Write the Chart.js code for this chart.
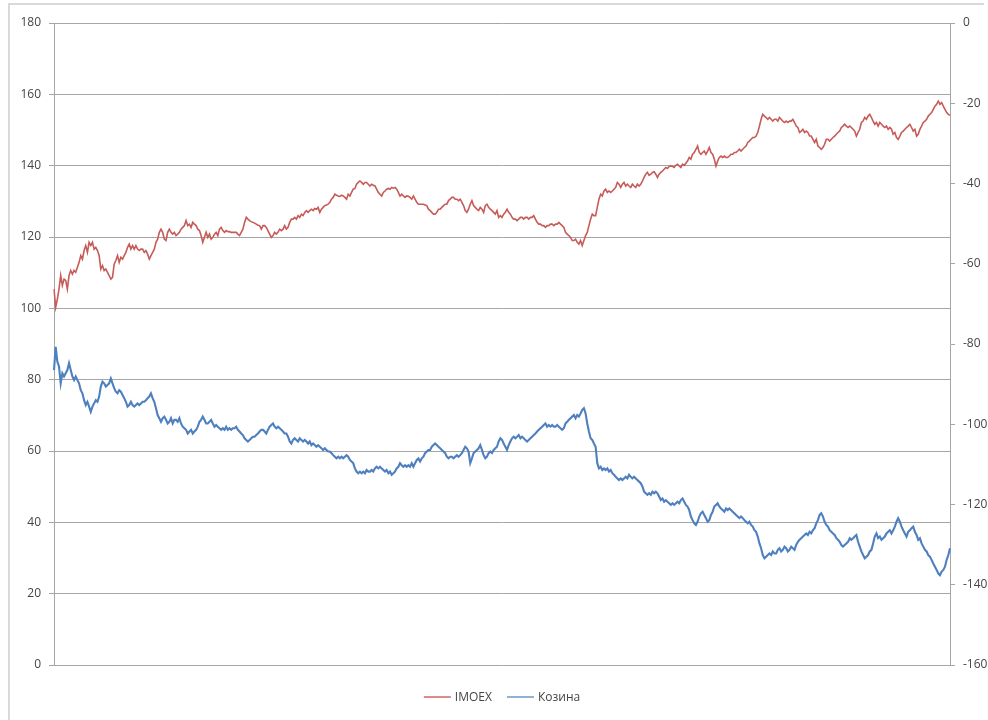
<!DOCTYPE html>
<html>
<head>
<meta charset="utf-8">
<script src="https://cdn.jsdelivr.net/npm/chart.js@4/dist/chart.umd.min.js"></script>
<style>
  html, body { margin: 0; padding: 0; background: #ffffff; }
  #frame { position: absolute; left: 8px; top: 3px; width: 974px; height: 800px;
           border-left: 2px solid #d9d9d9; border-top: 2px solid #d9d9d9; }
  #wrap { position: absolute; left: 0; top: 0; width: 988px; height: 720px; }
</style>
</head>
<body>
<div id="frame"></div>
<div id="wrap"><canvas id="chart" width="988" height="720"></canvas></div>
<script>
// IMOEX, left axis
const imoex = [
  105.4,100.3,102.6,105.4,109.2,106.4,108.2,107.8,105.4,109.2,
  110.6,109.6,110.6,110.1,111.5,112.9,114.8,113.8,116.2,117.6,
  115.7,118.5,117.6,118.5,116.6,117.1,116.2,114.8,111.0,112.0,
  110.6,111.0,110.1,109.2,108.2,108.7,112.4,113.4,114.8,112.9,
  114.3,113.8,114.8,115.7,117.1,118.0,116.6,117.6,116.6,117.6,
  116.6,116.2,116.6,116.6,115.7,116.2,115.2,113.8,114.8,115.7,
  116.6,118.5,119.4,121.3,122.2,121.3,119.4,119.0,121.3,122.2,
  121.3,120.8,121.3,120.4,120.8,121.3,122.2,122.7,123.2,124.6,
  123.2,123.6,122.7,124.1,123.6,123.2,122.2,121.8,120.4,118.5,
  119.9,121.3,119.9,120.8,119.4,119.9,120.8,121.3,120.4,122.2,
  122.7,121.8,121.3,121.8,121.5,121.5,121.3,121.3,
  121.3,121.3,120.8,120.4,121.3,122.2,124.1,125.5,125.0,124.6,
  124.3,124.1,123.9,123.6,123.3,123.2,122.2,123.2,123.2,122.7,
  121.8,120.8,119.9,120.4,121.3,120.8,121.3,122.2,121.8,122.2,
  123.2,122.2,122.7,124.1,125.0,125.0,125.5,125.0,126.0,125.5,
  126.4,126.0,126.9,127.4,126.9,127.4,127.8,127.4,128.0,127.8,
  128.3,126.9,127.8,128.3,128.8,129.0,129.2,129.7,130.6,131.1,
  132.0,131.7,131.5,131.4,131.7,131.5,131.1,130.6,132.0,131.5,
  132.5,133.4,133.6,134.8,135.3,135.7,135.3,134.8,135.3,135.3,
  134.8,134.3,134.8,134.5,134.3,133.4,132.5,132.0,131.5,132.5,
  132.9,133.4,133.6,133.4,133.9,133.7,133.9,133.4,132.5,131.5,
  132.0,131.5,131.1,131.5,131.4,131.1,130.6,131.5,
  130.6,129.7,129.2,129.2,129.2,129.2,129.0,128.8,127.8,127.4,
  126.9,126.4,126.4,126.9,127.8,127.8,128.3,128.8,129.2,129.2,
  130.2,130.6,131.1,131.1,130.6,130.6,130.2,130.6,129.7,128.8,
  127.4,126.9,127.8,129.2,130.2,128.8,128.3,127.8,127.4,128.3,
  127.8,126.9,128.8,129.2,128.3,127.8,127.4,126.9,126.4,127.4,
  125.5,126.0,125.5,126.4,126.9,127.8,126.9,126.4,125.5,125.0,
  125.0,124.6,125.0,125.5,125.5,125.0,125.5,125.5,125.0,125.5,
  125.5,126.0,125.0,124.1,123.6,123.6,123.2,123.2,122.7,123.2,
  123.2,123.6,123.6,123.2,123.6,123.6,124.1,123.6,123.2,122.7,
  121.3,120.8,120.4,119.9,119.0,119.0,119.4,118.5,118.0,119.0,
  117.6,119.0,120.4,121.3,123.2,125.0,126.4,126.0,
  126.0,128.3,130.6,132.0,131.5,132.9,133.4,132.5,132.9,132.5,
  132.9,133.4,133.9,135.3,134.8,133.9,134.8,135.3,134.3,134.8,
  134.3,133.9,134.8,134.3,133.9,134.8,134.3,134.8,135.7,136.7,
  137.6,138.1,137.3,137.6,138.1,138.3,137.6,136.7,137.6,138.1,
  138.5,139.0,139.5,139.2,139.8,139.9,139.8,139.5,140.1,140.4,
  139.9,139.5,140.4,140.1,140.7,141.3,142.3,141.8,143.2,143.7,
  144.6,145.5,143.7,143.2,143.7,144.1,143.2,144.1,145.1,143.7,
  143.2,141.8,139.9,141.3,142.3,142.7,142.3,142.7,142.3,142.3,
  142.7,143.2,143.2,143.7,143.7,144.1,144.6,144.1,144.6,145.1,
  145.5,146.5,146.9,147.4,147.9,147.9,148.3,149.3,151.1,153.0,
  154.4,153.9,153.5,153.0,153.5,153.0,152.5,153.0,
  153.0,152.5,153.5,153.0,152.5,152.1,152.5,152.1,152.5,152.5,
  153.0,152.1,151.1,150.7,149.3,149.7,150.2,149.3,149.7,149.3,
  148.3,148.3,147.4,146.5,147.4,145.5,145.1,144.6,145.1,146.0,
  147.4,147.4,146.9,147.4,147.9,148.3,148.8,149.3,149.7,150.7,
  151.1,151.6,151.1,150.7,151.1,150.7,150.2,149.7,148.3,149.3,
  150.2,152.1,152.5,153.5,153.0,153.9,154.4,153.5,152.5,151.6,
  152.1,151.1,152.1,151.6,151.1,150.7,151.1,150.2,150.7,150.2,
  148.8,149.3,147.9,147.4,148.3,149.3,149.7,150.2,150.7,151.1,
  151.6,150.7,149.7,150.2,148.3,148.8,150.2,151.1,152.1,152.5,
  153.0,153.9,154.4,154.9,155.8,156.7,157.2,158.1,157.2,157.7,
  156.7,155.8,154.9,154.4,154.1
];

// Козина, right axis
const kozina = [
  -86.5,-80.7,-84.4,-85.6,-89.8,-87.3,-88.1,-87.3,-86.5,-84.8,
  -86.5,-88.1,-89.0,-88.1,-89.0,-89.8,-91.5,-92.3,-94.0,-95.2,
  -94.4,-95.6,-96.9,-95.6,-94.8,-94.0,-94.4,-93.1,-90.6,-89.4,
  -89.8,-90.6,-90.2,-89.8,-88.6,-89.8,-91.0,-91.9,-92.3,-91.5,
  -91.9,-92.7,-93.5,-94.4,-95.6,-95.2,-94.4,-95.2,-95.6,-95.2,
  -94.8,-95.2,-94.8,-94.4,-94.4,-94.0,-93.5,-93.1,-92.3,-93.5,
  -94.4,-96.0,-97.7,-98.5,-99.4,-98.5,-98.1,-98.9,-99.8,-99.4,
  -98.5,-99.8,-98.9,-98.9,-99.4,-98.5,-99.8,-100.6,-101.0,-101.4,
  -102.3,-101.8,-101.4,-102.3,-101.8,-101.4,-100.6,-99.4,-98.9,-98.1,
  -98.9,-99.8,-99.8,-99.4,-98.9,-99.8,-100.6,-100.2,-100.6,-101.0,
  -101.4,-101.0,-101.4,-100.6,-101.4,-101.0,-101.4,-101.0,
  -101.0,-100.6,-101.4,-101.8,-102.3,-102.7,-103.5,-103.9,-104.3,-103.9,
  -103.5,-103.1,-103.1,-102.7,-102.3,-101.8,-101.4,-101.4,-101.8,-102.3,
  -101.4,-100.6,-100.2,-99.8,-100.6,-101.0,-100.6,-101.0,-101.4,-101.8,
  -102.3,-102.3,-103.1,-104.3,-104.8,-103.9,-103.5,-103.9,-104.3,-103.5,
  -103.9,-104.3,-103.9,-104.3,-104.8,-104.3,-105.2,-104.8,-105.2,-105.6,
  -105.2,-105.6,-106.0,-106.4,-106.0,-106.4,-106.8,-106.8,-107.2,-107.7,
  -108.1,-108.5,-108.1,-108.5,-108.1,-108.5,-108.1,-107.7,-108.1,-108.9,
  -109.3,-109.7,-111.0,-111.8,-112.2,-111.8,-112.2,-111.8,-112.2,-111.4,
  -111.8,-111.8,-111.4,-111.8,-111.0,-110.6,-111.0,-110.6,-111.0,-111.4,
  -111.8,-111.4,-112.2,-111.8,-112.6,-112.2,-111.8,-111.0,-110.6,-109.7,
  -110.2,-110.6,-110.2,-110.6,-110.2,-110.6,-109.7,-110.6,
  -109.7,-108.9,-108.5,-109.3,-108.5,-108.1,-107.2,-106.8,-106.4,-106.4,
  -105.6,-105.2,-104.8,-105.2,-105.6,-106.0,-106.4,-106.8,-107.2,-108.1,
  -108.5,-108.1,-108.1,-108.5,-108.1,-107.7,-108.1,-107.7,-107.2,-106.4,
  -105.6,-106.0,-106.8,-109.7,-108.5,-107.2,-106.8,-106.4,-106.0,-105.2,
  -106.4,-107.7,-108.5,-108.1,-107.2,-106.8,-107.2,-106.4,-106.0,-105.6,
  -104.3,-103.5,-103.9,-104.8,-105.6,-106.4,-105.2,-104.3,-103.5,-103.1,
  -103.5,-103.1,-102.7,-103.5,-103.1,-103.5,-103.9,-104.3,-103.9,-103.5,
  -103.1,-102.7,-102.3,-101.8,-101.4,-101.0,-100.6,-100.2,-99.8,-100.6,
  -100.2,-100.6,-100.2,-100.6,-100.6,-100.2,-100.6,-101.0,-101.4,-101.0,
  -99.8,-99.4,-98.9,-98.5,-98.1,-97.7,-98.5,-97.7,-98.1,-97.3,
  -96.4,-96.0,-97.3,-99.8,-101.8,-103.5,-103.9,-104.8,
  -105.6,-109.7,-111.0,-110.6,-111.4,-111.0,-111.4,-111.0,-111.8,-111.4,
  -112.2,-112.6,-113.1,-113.5,-113.9,-113.5,-113.9,-113.5,-113.1,-113.5,
  -112.6,-113.1,-113.5,-113.1,-113.5,-113.9,-114.3,-114.7,-115.5,-116.8,
  -117.2,-117.6,-117.2,-117.6,-116.8,-117.2,-116.8,-117.2,-118.0,-118.9,
  -118.5,-119.3,-118.9,-119.3,-119.7,-120.1,-119.7,-120.1,-119.7,-119.3,
  -119.7,-118.9,-118.5,-119.3,-120.1,-120.5,-121.4,-123.0,-123.9,-124.7,
  -125.1,-124.3,-123.0,-122.2,-121.8,-122.6,-123.4,-124.3,-123.9,-122.6,
  -121.8,-120.5,-120.1,-119.7,-120.5,-121.0,-121.4,-121.8,-121.0,-121.4,
  -121.0,-121.4,-121.8,-122.2,-122.6,-123.0,-123.4,-123.0,-123.4,-123.9,
  -124.3,-124.7,-124.3,-125.1,-125.5,-126.4,-126.8,-128.0,-129.7,-130.9,
  -132.6,-133.4,-133.0,-132.6,-132.2,-132.6,-131.7,-132.2,
  -132.2,-131.3,-130.9,-131.7,-131.3,-130.5,-130.9,-131.7,-131.3,-130.5,
  -130.9,-131.3,-130.1,-129.3,-128.8,-128.4,-128.0,-127.6,-127.2,-127.6,
  -126.8,-127.2,-126.4,-125.9,-124.7,-123.9,-122.6,-122.2,-123.0,-124.3,
  -125.1,-125.5,-126.4,-126.8,-127.2,-127.6,-128.4,-128.8,-129.3,-130.1,
  -130.5,-130.1,-129.7,-129.3,-128.4,-128.8,-128.4,-128.0,-127.6,-129.3,
  -130.5,-131.7,-132.6,-133.4,-133.0,-132.6,-131.7,-131.3,-129.7,-128.0,
  -127.2,-128.4,-128.0,-128.8,-128.4,-128.0,-127.2,-126.8,-126.4,-127.2,
  -126.4,-125.5,-124.3,-123.4,-124.3,-125.5,-126.4,-127.2,-128.0,-126.8,
  -126.4,-125.9,-125.5,-126.8,-127.6,-128.8,-128.4,-129.7,-130.5,-131.3,
  -131.7,-132.6,-133.0,-133.8,-134.7,-135.5,-136.3,-137.2,-137.6,-136.7,
  -136.3,-135.5,-133.8,-132.6,-130.9
];

// trading-day index along the horizontal axis
const days = imoex.map((_, i) => i + 1);

// axis ranges
const leftAxis = { min: 0, max: 180, step: 20 };
const rightAxis = { min: -160, max: 0, step: 20 };

const axisGray = '#a6a6a6';
const textGray = '#454545';
const tickFont = { family: "'Open Sans', 'Liberation Sans', sans-serif", size: 12 };

// legend drawn under the plot: line swatch followed by the series name
const bottomLegend = {
  id: 'bottomLegend',
  afterDraw(chart) {
    const ctx = chart.ctx;
    const sets = chart.data.datasets;
    const swatch = 27, gapAfterSwatch = 4, gapBetween = 15;
    ctx.save();
    ctx.font = "12px 'Open Sans', 'Liberation Sans', sans-serif";
    const widths = sets.map(d => swatch + gapAfterSwatch + ctx.measureText(d.label).width);
    const total = widths.reduce((a, b) => a + b, 0) + gapBetween * (sets.length - 1);
    const cx = (chart.chartArea.left + chart.chartArea.right) / 2;
    let x = cx - total / 2;
    const y = 697;
    sets.forEach((d, i) => {
      ctx.strokeStyle = d.legendColor;
      ctx.lineWidth = 2;
      ctx.beginPath();
      ctx.moveTo(x, y);
      ctx.lineTo(x + swatch, y);
      ctx.stroke();
      ctx.fillStyle = textGray;
      ctx.textBaseline = 'middle';
      ctx.textAlign = 'left';
      ctx.fillText(d.label, x + swatch + gapAfterSwatch, y + 0.5);
      x += widths[i] + gapBetween;
    });
    ctx.restore();
  }
};

new Chart(document.getElementById('chart'), {
  type: 'line',
  data: {
    labels: days,
    datasets: [
      { label: 'IMOEX', data: imoex, yAxisID: 'y', legendColor: '#d98c8a',
        borderColor: '#c65b58', borderWidth: 1.6, pointRadius: 0, tension: 0 },
      { label: 'Козина', data: kozina, yAxisID: 'y1', legendColor: '#8fb0d8',
        borderColor: '#4e7fbf', borderWidth: 2.1, pointRadius: 0, tension: 0 }
    ]
  },
  options: {
    responsive: false,
    animation: false,
    events: [],
    layout: { padding: { top: 23, bottom: 55, left: 0, right: 0 } },
    plugins: { legend: { display: false }, tooltip: { enabled: false } },
    scales: {
      x: { type: 'category', display: false, offset: false },
      y: {
        position: 'left',
        min: leftAxis.min, max: leftAxis.max,
        ticks: { stepSize: leftAxis.step, color: textGray, font: tickFont, padding: 8 },
        grid: { color: axisGray, lineWidth: 1, tickLength: 5 },
        border: { color: axisGray, width: 1 },
        afterFit(scale) { scale.width = 54; }
      },
      y1: {
        position: 'right',
        min: rightAxis.min, max: rightAxis.max,
        ticks: { stepSize: rightAxis.step, color: textGray, font: tickFont, padding: 8 },
        grid: { drawOnChartArea: false, color: axisGray, lineWidth: 1, tickLength: 5 },
        border: { color: axisGray, width: 1 },
        afterFit(scale) { scale.width = 38; }
      }
    }
  },
  plugins: [bottomLegend]
});
</script>
</body>
</html>
